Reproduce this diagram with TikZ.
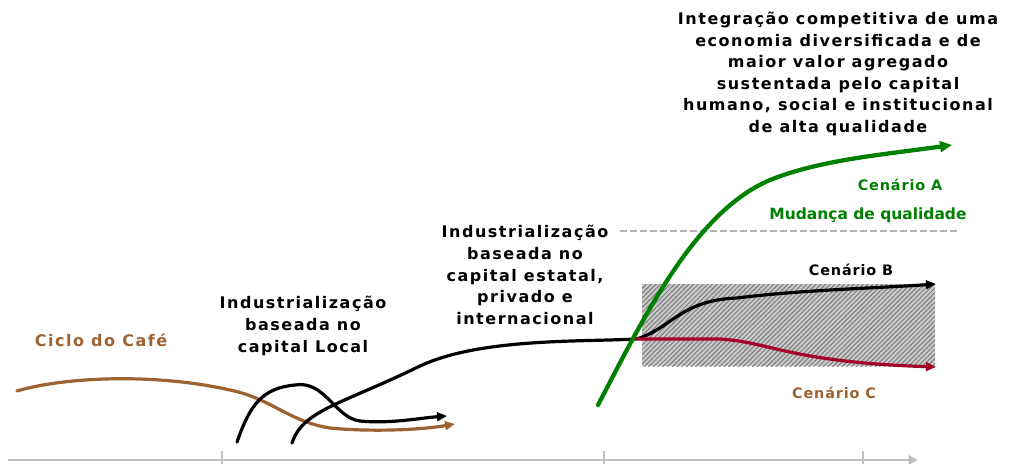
\documentclass[tikz,border=0pt]{standalone}
\usepackage{fontspec}
\setmainfont{DejaVu Sans}
\newfontfamily\wide[LetterSpace=9.5]{DejaVu Sans}
\newfontfamily\semiwide[LetterSpace=6]{DejaVu Sans}
\usetikzlibrary{arrows.meta,patterns.meta}
\definecolor{cafe}{RGB}{158,98,48}
\definecolor{verde}{RGB}{0,128,0}
\definecolor{vermelho}{RGB}{165,0,40}
\definecolor{eixo}{RGB}{192,192,192}
\definecolor{boxbg}{RGB}{200,200,200}
\definecolor{boxln}{RGB}{125,125,125}
\tikzset{
  lbl/.style={font=\wide\bfseries\fontsize{12}{16.2}\selectfont, align=center, inner sep=0pt},
  smalllbl/.style={font=\semiwide\bfseries\fontsize{10.8}{12}\selectfont, inner sep=0pt},
  mudlbl/.style={font=\bfseries\fontsize{11.6}{14}\selectfont, inner sep=0pt},
  curva/.style={line width=2.4pt, line cap=round},
  tip/.style={-{Triangle[length=7.5pt,width=6.5pt]}},
}
\begin{document}
\begin{tikzpicture}[x=0.75pt,y=-0.75pt]
\useasboundingbox (0,0) rectangle (1011,464);

% axis
\coordinate (ax0) at (8,460);
\coordinate (ax1) at (918,460);
\draw[eixo, line width=2.2pt, -{Triangle[length=7pt,width=7pt]}] (ax0) -- (ax1);
\foreach \x/\n in {222/t1,604/t2,863/t3}{
  \coordinate (\n a) at (\x,451);
  \coordinate (\n b) at (\x,464);
  \draw[eixo, line width=1.6pt] (\n a) -- (\n b);
}

% hatched box
\coordinate (bx0) at (642,284);
\coordinate (bx1) at (935,366);
\fill[boxbg] (bx0) rectangle (bx1);
\fill[pattern={Lines[angle=45, distance=2.5pt, line width=0.75pt]}, pattern color=boxln] (bx0) rectangle (bx1);

% dashed line
\coordinate (d0) at (620,231);
\coordinate (d1) at (958,231);
\draw[gray!60, line width=1.3pt, dash pattern=on 5pt off 2.5pt] (d0) -- (d1);

% Ciclo do Cafe curve
\coordinate (c0) at (17,391);
\coordinate (c1) at (230,390);
\coordinate (c2) at (330,428);
\coordinate (c3) at (455,424);
\draw[curva, cafe, tip] (c0) .. controls (60,378) and (150,372) .. (c1)
  .. controls (270,398) and (290,422) .. (c2)
  .. controls (370,432) and (420,430) .. (c3);

% black curve 1 (capital local)
\coordinate (k0) at (237,442);
\coordinate (k1) at (295,385);
\coordinate (k2) at (360,421);
\coordinate (k3) at (447,416);
\draw[curva, black, tip] (k0) .. controls (250,405) and (262,388) .. (k1)
  .. controls (325,380) and (335,418) .. (k2)
  .. controls (390,424) and (420,418) .. (k3);

% black curve 2 (estatal -> Cenario B)
\coordinate (m0) at (292,443);
\coordinate (m1) at (420,366);
\coordinate (m2) at (636,339);
\coordinate (m3) at (737,298);
\coordinate (m4) at (936,284);
\draw[curva, black, tip] (m0) .. controls (303,410) and (340,405) .. (m1)
  .. controls (480,338) and (580,342) .. (m2)
  .. controls (670,330) and (680,300) .. (m3)
  .. controls (800,290) and (880,288) .. (m4);

% red curve (Cenario C)
\coordinate (r0) at (636,339);
\coordinate (r1) at (720,339);
\coordinate (r2) at (936,367);
\draw[curva, vermelho, tip] (r0) -- (r1)
  .. controls (770,342) and (790,362) .. (r2);

% green curve (Cenario A)
\coordinate (g0) at (598,405);
\coordinate (g1) at (770,180);
\coordinate (g2) at (952,145);
\draw[line width=3.2pt, line cap=round, verde, -{Triangle[length=9pt,width=8pt]}] (g0) .. controls (645,315) and (695,212) .. (g1)
  .. controls (820,160) and (880,155) .. (g2);

% texts
\node[lbl, text=cafe] (cafe) at (101,340) {Ciclo do Café};
\node[lbl] (local) at (303,326) {Industrialização\\baseada no\\capital Local};
\node[lbl] (estatal) at (525,275) {Industrialização\\baseada no\\capital estatal,\\privado e\\internacional};
\node[lbl] (integ) at (838,74) {Integração competitiva de uma\\economia diversificada e de\\maior valor agregado\\sustentada pelo capital\\humano, social e institucional\\de alta qualidade};
\node[smalllbl, text=verde] (cenA) at (900,185) {Cenário A};
\node[mudlbl, text=verde] (mud) at (868,215) {Mudança de qualidade};
\node[smalllbl] (cenB) at (851,270) {Cenário B};
\node[smalllbl, text=cafe] (cenC) at (834,393) {Cenário C};
\end{tikzpicture}
\end{document}
